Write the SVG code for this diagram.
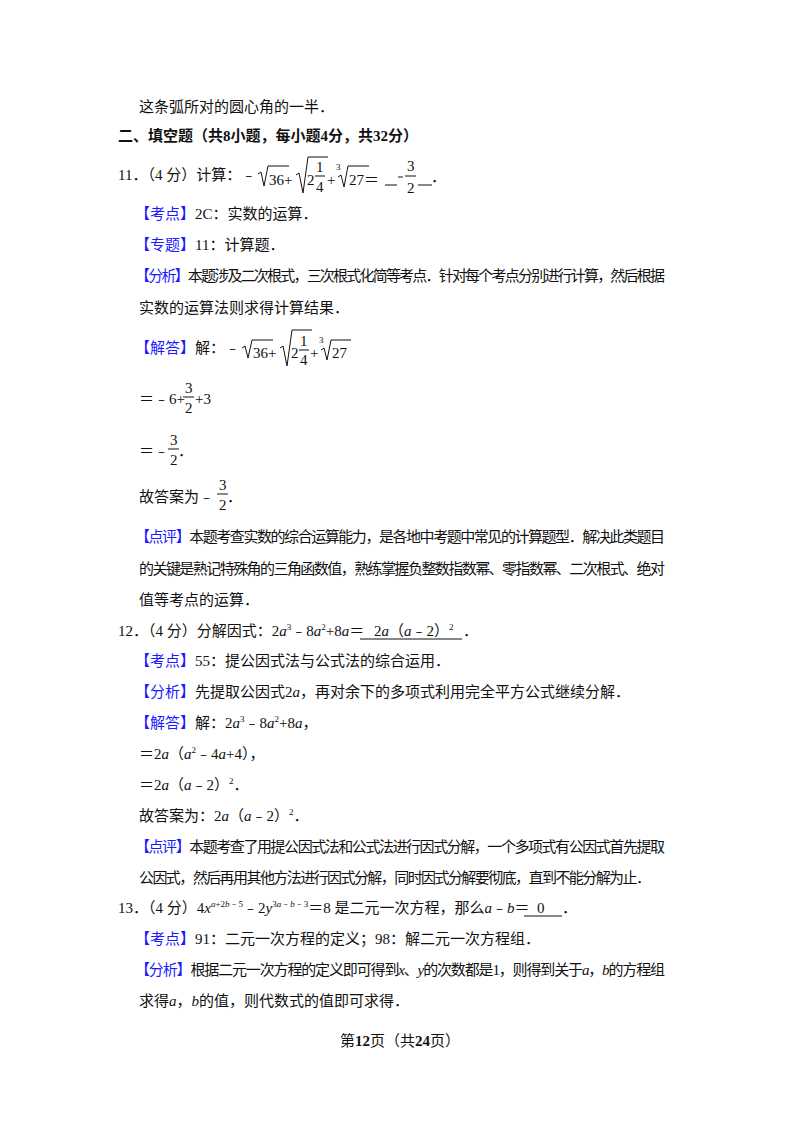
<svg xmlns="http://www.w3.org/2000/svg" width="800" height="1132" viewBox="0 0 800 1132">
<style>
text{font-family:"Liberation Serif","Noto Sans CJK SC",serif;font-size:15px;fill:#111}
.b{fill:#1a1aff}
.bold{font-weight:bold}
.i{font-style:italic}
.s{font-size:9px}
.ln{stroke:#111;stroke-width:1;fill:none}
</style>
<rect width="800" height="1132" fill="#fff"/>
<text x="139" y="112">这条弧所对的圆心角的一半．</text>
<text x="118" y="141" class="bold" font-size="15">二、填空题（共8小题，每小题4分，共32分）</text>

<g id="q11">
<text x="118" y="180">11．（4 分）计算：﹣</text>
<path class="ln" d="M258,174 L261,172 L264,186 L268,166 L289,166"/>
<text x="269" y="185">36+</text>
<path class="ln" d="M296,175 L299,173 L303,193 L308,157 L328,157"/>
<text x="307" y="185">2</text>
<text x="316" y="172" font-size="14">1</text>
<line class="ln" x1="315" y1="176" x2="325" y2="176"/>
<text x="316" y="192" font-size="14">4</text>
<text x="327" y="185">+</text>
<text x="336" y="170" class="s">3</text>
<path class="ln" d="M338,177 L341,175 L344,187 L348,166 L369,166"/>
<text x="349" y="185">27＝</text>
<line class="ln" x1="385" y1="185" x2="397" y2="185"/>
<line class="ln" x1="418" y1="185" x2="432" y2="185"/>
<line class="ln" x1="398" y1="177" x2="403" y2="177"/>
<text x="407" y="171" font-size="14">3</text>
<line class="ln" x1="405" y1="176" x2="416" y2="176"/>
<text x="407" y="193" font-size="14">2</text>
<text x="431" y="182">．</text>
</g>
<text x="135" y="219"><tspan class="b">【考点】</tspan>2C：实数的运算．</text>
<text x="135" y="250"><tspan class="b">【专题】</tspan>11：计算题．</text>
<text x="135" y="281" textLength="530"><tspan class="b">【分析】</tspan>本题涉及二次根式，三次根式化简等考点．针对每个考点分别进行计算，然后根据</text>
<text x="139" y="313">实数的运算法则求得计算结果．</text>

<g id="sol11">
<text x="135" y="353"><tspan class="b">【解答】</tspan>解：﹣</text>
<path class="ln" d="M242,348 L245,346 L248,358 L252,340 L273,340"/>
<text x="253" y="358">36+</text>
<path class="ln" d="M280,348 L283,346 L287,366 L292,330 L312,330"/>
<text x="291" y="358">2</text>
<text x="300" y="346" font-size="14">1</text>
<line class="ln" x1="299" y1="350" x2="309" y2="350"/>
<text x="300" y="365" font-size="14">4</text>
<text x="310" y="358">+</text>
<text x="319" y="343" class="s">3</text>
<path class="ln" d="M321,350 L324,348 L327,360 L331,340 L351,340"/>
<text x="332" y="358">27</text>
<text x="139" y="404">＝﹣6+</text>
<text x="185" y="393" font-size="14">3</text>
<line class="ln" x1="183" y1="397" x2="194" y2="397"/>
<text x="185" y="413" font-size="14">2</text>
<text x="195" y="404">+3</text>
<text x="139" y="456">＝﹣</text>
<text x="170" y="445" font-size="14">3</text>
<line class="ln" x1="168" y1="449" x2="179" y2="449"/>
<text x="170" y="465" font-size="14">2</text>
<text x="178" y="456">．</text>
<text x="139" y="502">故答案为﹣</text>
<text x="219" y="490" font-size="14">3</text>
<line class="ln" x1="217" y1="494" x2="228" y2="494"/>
<text x="219" y="510" font-size="14">2</text>
<text x="227" y="502">．</text>
</g>
<text x="135" y="542" textLength="530"><tspan class="b">【点评】</tspan>本题考查实数的综合运算能力，是各地中考题中常见的计算题型．解决此类题目</text>
<text x="139" y="574" textLength="526">的关键是熟记特殊角的三角函数值，熟练掌握负整数指数幂、零指数幂、二次根式、绝对</text>
<text x="139" y="605">值等考点的运算．</text>

<g id="q12">
<text x="118" y="636">12．（4 分）分解因式：2<tspan class="i">a</tspan><tspan class="s" dy="-6">3</tspan><tspan dy="6">﹣8</tspan><tspan class="i">a</tspan><tspan class="s" dy="-6">2</tspan><tspan dy="6">+8</tspan><tspan class="i">a</tspan>＝</text>
<line class="ln" x1="360" y1="639" x2="462" y2="639"/>
<text x="374" y="636">2<tspan class="i">a</tspan>（<tspan class="i">a</tspan>﹣2）<tspan class="s" dy="-6">2</tspan></text>
<text x="463" y="636">．</text>
</g>
<text x="135" y="666"><tspan class="b">【考点】</tspan>55：提公因式法与公式法的综合运用．</text>
<text x="135" y="697"><tspan class="b">【分析】</tspan>先提取公因式2<tspan class="i">a</tspan>，再对余下的多项式利用完全平方公式继续分解．</text>
<text x="135" y="728"><tspan class="b">【解答】</tspan>解：2<tspan class="i">a</tspan><tspan class="s" dy="-6">3</tspan><tspan dy="6">﹣8</tspan><tspan class="i">a</tspan><tspan class="s" dy="-6">2</tspan><tspan dy="6">+8</tspan><tspan class="i">a</tspan>，</text>
<text x="139" y="759">＝2<tspan class="i">a</tspan>（<tspan class="i">a</tspan><tspan class="s" dy="-6">2</tspan><tspan dy="6">﹣4</tspan><tspan class="i">a</tspan>+4），</text>
<text x="139" y="790">＝2<tspan class="i">a</tspan>（<tspan class="i">a</tspan>﹣2）<tspan class="s" dy="-6">2</tspan><tspan dy="6">．</tspan></text>
<text x="139" y="821">故答案为：2<tspan class="i">a</tspan>（<tspan class="i">a</tspan>﹣2）<tspan class="s" dy="-6">2</tspan><tspan dy="6">．</tspan></text>
<text x="135" y="852" textLength="530"><tspan class="b">【点评】</tspan>本题考查了用提公因式法和公式法进行因式分解，一个多项式有公因式首先提取</text>
<text x="139" y="883" textLength="512">公因式，然后再用其他方法进行因式分解，同时因式分解要彻底，直到不能分解为止．</text>

<g id="q13">
<text x="118" y="913">13．（4 分）4<tspan class="i">x</tspan><tspan class="s i" dy="-6">a</tspan><tspan class="s" dy="0">+2</tspan><tspan class="s i">b</tspan><tspan class="s">﹣5</tspan><tspan dy="6">﹣2</tspan><tspan class="i">y</tspan><tspan class="s" dy="-6">3</tspan><tspan class="s i">a</tspan><tspan class="s">﹣</tspan><tspan class="s i">b</tspan><tspan class="s">﹣3</tspan><tspan dy="6">＝8 是二元一次方程，那么</tspan><tspan class="i">a</tspan>﹣<tspan class="i">b</tspan>＝</text>
<line class="ln" x1="524" y1="916" x2="562" y2="916"/>
<text x="537" y="913">0</text>
<text x="562" y="913">．</text>
</g>
<text x="135" y="944"><tspan class="b">【考点】</tspan>91：二元一次方程的定义；98：解二元一次方程组．</text>
<text x="135" y="975" textLength="530"><tspan class="b">【分析】</tspan>根据二元一次方程的定义即可得到<tspan class="i">x</tspan>、<tspan class="i">y</tspan>的次数都是1，则得到关于<tspan class="i">a</tspan>，<tspan class="i">b</tspan>的方程组</text>
<text x="139" y="1006">求得<tspan class="i">a</tspan>，<tspan class="i">b</tspan>的值，则代数式的值即可求得．</text>
<text x="400" y="1046" text-anchor="middle" font-size="13">第<tspan class="bold">12</tspan>页（共<tspan class="bold">24</tspan>页）</text>
</svg>
